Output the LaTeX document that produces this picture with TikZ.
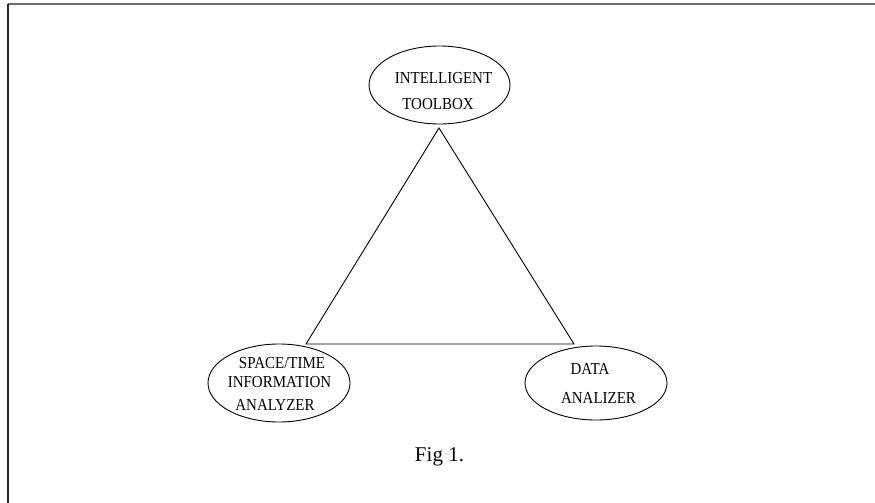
\documentclass[tikz,border=0pt]{standalone}
\usepackage{fontspec}
\usepackage{graphicx}
\setmainfont{Liberation Serif}
\usetikzlibrary{shapes.geometric}
\begin{document}
\begin{tikzpicture}[x=1pt,y=-1pt,
  bubble/.style={draw, ellipse, line width=0.9pt, inner sep=0pt},
  lbl/.style={anchor=base, inner sep=0pt, font=\fontsize{15}{15}\selectfont},
  edge/.style={line width=0.9pt}]
\useasboundingbox (0,0) rectangle (875,503);
% frame
\draw[line width=2pt, gray!85!black] (8,4) -- (875,4);
\draw[line width=1.4pt, black!85] (8,4) -- (8,503);
% ellipses
\node[bubble, minimum width=141pt, minimum height=78pt] (top) at (439.5,85) {};
\node[bubble, minimum width=142pt, minimum height=78pt] (left) at (279,383) {};
\node[bubble, minimum width=142pt, minimum height=74pt] (right) at (596,383) {};
% texts
\node[lbl] (t1) at (443.5,84) {\scalebox{1}[1.12]{INTELLIGENT}};
\node[lbl] (t2) at (438,109) {\scalebox{1}[1.12]{TOOLBOX}};
\node[lbl] (l1) at (282,368) {\scalebox{1}[1.12]{SPACE/TIME}};
\node[lbl] (l2) at (279.5,387) {\scalebox{1}[1.12]{INFORMATION}};
\node[lbl] (l3) at (275,410) {\scalebox{1}[1.12]{ANALYZER}};
\node[lbl] (r1) at (590,374) {\scalebox{1}[1.12]{DATA}};
\node[lbl] (r2) at (598.5,403) {\scalebox{1}[1.12]{ANALIZER}};
\node[anchor=base, inner sep=0pt, font=\fontsize{21}{21}\selectfont] (fig) at (439.5,461.5) {Fig 1.};
% triangle
\coordinate (va) at (439,128);
\coordinate (vl) at (306,344);
\coordinate (vr) at (574,344);
\draw[edge, line join=miter] (va) -- (vl) -- (vr) -- cycle;
\end{tikzpicture}
\end{document}
